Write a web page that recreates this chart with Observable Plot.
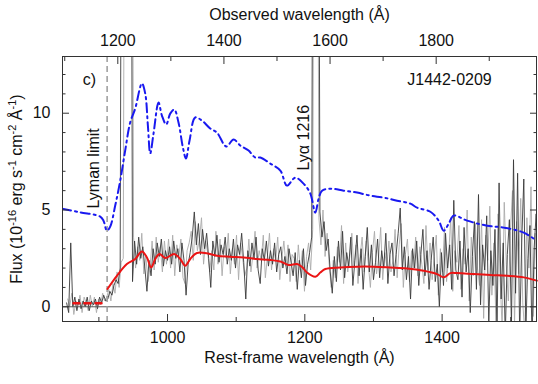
<!DOCTYPE html>
<html><head><meta charset="utf-8">
<script src="https://cdn.jsdelivr.net/npm/d3@7"></script>
<script src="https://cdn.jsdelivr.net/npm/@observablehq/plot@0.6"></script>
<style>body{margin:0;background:#fff;}</style>
</head><body><div id="chart"></div>
<script>
// ---- data ----
const redshift = 0.2937;
const restMajorTicks = [1000, 1200, 1400];
const restMinorTicks = [900, 1100, 1300, 1500];
const obsMajorTicks = [1200, 1400, 1600, 1800];
const obsMinorTicks = [1100, 1300, 1500, 1700, 1900];
const fluxMajorTicks = [0, 5, 10];
const fluxMinorTicks = [1, 2, 3, 4, 6, 7, 8, 9, 11, 12];

// observed spectrum (two shades), 3 Å bins
const specStep = 3;
const darkStart = 853;
const darkFlux = [
  0.2,-0.3,3.3,0.0,0.5,-0.2,0.4,-0.1,0.3,0.0,
  0.5,-0.2,0.3,0.1,0.4,-0.1,0.5,0.2,0.6,0.3,
  0.4,0.8,0.6,1.1,1.4,1.2,2.0,40,40,40,
  40,40,1.3,3.4,2.2,3.6,2.5,3.1,2.0,0.8,
  2.4,1.6,3.0,2.2,3.3,2.6,3.5,2.1,2.9,2.4,
  3.1,2.2,3.4,2.5,3.0,1.8,3.3,2.4,0.6,2.2,
  2.8,3.6,4.9,3.2,4.3,2.7,4.0,3.0,3.8,2.5,
  1.0,3.4,2.6,3.7,2.3,3.2,2.7,3.6,2.2,3.0,
  2.4,3.5,2.0,3.2,2.7,3.8,2.3,0.4,2.9,2.1,
  3.3,2.5,3.6,1.9,1.2,3.0,2.4,3.4,2.1,2.9,
  2.2,3.3,1.8,2.7,3.1,2.0,2.6,1.7,3.0,2.3,
  1.6,2.8,0.9,2.4,1.5,3.0,1.1,2.2,2.8,3.6,
  40,40,40,4.9,3.6,4.4,2.9,3.5,1.8,0.7,
  2.6,1.3,3.4,1.9,3.9,1.5,2.8,2.1,3.6,1.1,
  2.4,3.7,1.6,3.0,0.9,2.6,4.1,1.8,3.2,1.4,
  2.3,3.5,1.5,2.9,2.0,3.8,1.2,2.7,3.3,1.6,
  2.7,3.8,5.1,1.9,3.1,1.4,2.6,0.4,3.0,2.0,
  3.4,1.1,2.7,4.0,1.6,2.9,0.9,2.4,3.6,1.3,
  2.2,0.0,2.8,1.1,3.8,2.0,3.2,0.9,5.5,1.9,
  1.4,3.4,0.5,4.1,1.8,3.0,-0.3,2.6,4.4,0.9,
  5.8,0.1,3.2,1.9,4.7,-0.8,2.9,1.1,4.0,-1.2,
  6.4,0.4,3.3,-1.5,2.7,4.5,-1.0,7.6,0.7,6.9,
  -1.5,3.4,6.6,-1.2,2.5,4.2,-1.8,3.0,4.8,0.5
];
const lightStart = 854.5;
const lightFlux = [
  0.4,0.0,0.7,-0.4,0.3,0.1,0.6,-0.3,0.5,0.2,
  -0.2,0.6,0.0,0.5,-0.3,0.4,0.1,0.7,0.3,0.5,
  0.9,0.3,1.2,0.7,1.8,1.0,2.3,2.5,40,40,
  40,40,3.6,2.0,3.1,2.4,3.8,1.7,2.6,1.3,
  2.0,3.4,1.9,3.6,2.3,3.1,1.8,3.4,2.2,3.5,
  2.0,3.7,1.6,3.2,2.6,3.5,1.5,1.2,2.9,3.3,
  3.9,2.4,4.4,2.9,3.5,4.6,2.2,3.4,2.8,1.8,
  2.9,1.9,3.9,2.2,3.5,1.6,3.1,2.5,3.8,1.7,
  3.0,2.2,3.7,1.4,3.3,2.5,1.6,2.0,3.5,1.8,
  2.7,3.9,2.0,2.9,2.4,3.7,1.5,2.6,3.8,1.9,
  3.0,2.4,3.6,1.4,2.5,3.4,2.1,3.2,1.3,2.7,
  2.5,1.3,3.2,1.9,2.9,0.8,2.6,3.3,1.9,4.0,
  40,40,4.6,3.2,5.0,2.6,3.8,2.2,1.0,2.4,
  1.5,3.1,2.3,4.2,1.2,3.3,1.8,2.6,3.8,2.0,
  3.2,1.2,2.6,3.6,1.8,3.4,2.2,1.0,2.8,3.9,
  1.7,2.5,4.1,1.4,2.8,2.1,3.4,1.8,2.4,4.0,
  1.5,3.2,4.3,1.0,2.7,3.5,1.3,2.9,2.0,3.6,
  1.6,3.1,2.2,1.2,4.2,1.9,3.3,1.4,2.6,3.7,
  0.6,3.0,1.8,4.1,1.3,2.6,4.6,0.8,2.9,2.3,
  4.2,0.9,3.0,2.2,5.0,0.3,3.6,1.6,4.3,2.0,
  1.1,4.5,-0.6,3.7,2.4,5.2,0.6,3.3,-1.0,4.8,
  1.5,-1.2,5.4,2.2,0.3,3.9,6.0,-0.9,4.4,1.7,
  5.6,0.2,-1.4,4.6,2.0,6.2,-0.5,3.8,1.2,4.4
];

// blue dash-dot model
const blueWave = [846.5,872.7,901.9,906.7,911.7,916.5,923.8,931.1,938.3,945.6,952.9,962.7,967.5,971.4,974.8,979.6,986.9,991.8,998.1,1003.9,1009.8,1016,1022.4,1026.8,1032.1,1040.4,1050.1,1062.2,1072,1085.6,1096.2,1106,1118.1,1127.8,1135.1,1149.7,1164.3,1174,1186.1,1198.2,1208,1215.3,1220.1,1225.1,1237.2,1256.6,1276.1,1295.5,1314.9,1334.4,1353.8,1363.6,1382.9,1395,1402.3,1409.6,1416.9,1436.4,1465.6,1489.8,1518.9,1537.5];
const blueFlux = [5.07,4.88,4.66,4.45,3.93,4.14,5.23,6.52,8.07,9.52,10.24,11.54,11.02,9.36,7.92,8.95,10.55,9.88,9.42,9.98,10.19,9.52,8.23,7.66,8.59,9.78,9.62,9.21,9.0,8.28,8.64,8.33,8.07,7.71,7.71,7.40,7.04,6.26,6.67,6.36,5.85,4.86,5.59,6.0,6.10,6.0,5.90,5.74,5.64,5.48,5.33,5.12,4.91,4.45,3.93,4.29,4.71,4.45,4.19,4.09,3.83,3.41];

// red fit
const redWave = [912.5,926.2,940.8,952.9,962.7,970,976.2,982.1,988.3,996.6,1009.8,1018.5,1025.8,1033.1,1042.9,1057.4,1072,1091.4,1110.8,1130.3,1149.7,1164.3,1176.4,1188.6,1196,1203.2,1215.3,1222.6,1229.9,1251.7,1276.1,1300.3,1324.6,1349,1373.2,1392.7,1402.3,1412.1,1421.8,1446.1,1470.4,1494.7,1519,1538];
const redFlux = [0.92,1.6,2.21,2.47,2.86,2.55,2.03,2.47,2.73,2.52,2.73,2.47,2.12,2.47,2.78,2.76,2.64,2.59,2.55,2.47,2.42,2.34,2.16,2.21,2.06,1.77,1.55,1.77,1.95,2.03,2.07,2.07,2.03,1.98,1.86,1.69,1.52,1.74,1.74,1.69,1.64,1.60,1.52,1.35];
const redDashWave = [863, 909];
const redDashFlux = [0.18, 0.18];

const lymanLimit = [912];
const lyaLine = [1216];

// ---- chart ----
const toRest = o => o / (1 + redshift);
const font = "'Liberation Sans', Arial, Helvetica, sans-serif";
const ink = "#333";

const chart = Plot.plot({
  width: 538, height: 384,
  marginLeft: 62, marginRight: 2, marginTop: 56, marginBottom: 63,
  x: {domain: [847, 1537.5]},
  y: {domain: [-0.76, 12.93]},
  style: {fontFamily: font, fontSize: "16px", background: "#fff", color: "#111", overflow: "visible"},
  marks: [
    Plot.line(lightFlux, {x: (d, i) => lightStart + i * specStep, y: d => d, stroke: "#ababab", strokeWidth: 0.9, clip: true}),
    Plot.line(darkFlux, {x: (d, i) => darkStart + i * specStep, y: d => d, stroke: "#3a3a3a", strokeWidth: 0.9, clip: true}),
    Plot.ruleY([0], {stroke: "#555", strokeWidth: 1}),
    Plot.ruleX(lymanLimit, {stroke: "#9a9a9a", strokeWidth: 1.5, strokeDasharray: "6,4"}),
    Plot.line(redDashWave, {x: d => d, y: (d, i) => redDashFlux[i], stroke: "rgb(235,20,20)", strokeWidth: 2.5, strokeDasharray: "6,5"}),
    Plot.line(redWave, {x: d => d, y: (d, i) => redFlux[i], stroke: "rgb(235,20,20)", strokeWidth: 2, curve: "catmull-rom"}),
    Plot.line(blueWave, {x: d => d, y: (d, i) => blueFlux[i], stroke: "rgb(25,25,240)", strokeWidth: 2, strokeDasharray: "9,4,2,4", curve: "catmull-rom", clip: true}),
    Plot.frame({stroke: ink, strokeWidth: 1}),
    // bottom axis
    Plot.axisX({anchor: "bottom", ticks: restMajorTicks, tickSize: -7, tickFormat: () => "", stroke: ink, label: null}),
    Plot.axisX({anchor: "bottom", ticks: restMinorTicks, tickSize: -4, tickFormat: () => "", stroke: ink, label: null}),
    Plot.axisX({anchor: "bottom", ticks: restMajorTicks, tickSize: 0, tickPadding: 10, tickFormat: d => String(d), fontSize: 16, label: null}),
    // top axis (observed)
    Plot.axisX({anchor: "top", ticks: obsMajorTicks.map(toRest), tickSize: -7, tickFormat: () => "", stroke: ink, label: null}),
    Plot.axisX({anchor: "top", ticks: obsMinorTicks.map(toRest), tickSize: -4, tickFormat: () => "", stroke: ink, label: null}),
    Plot.axisX({anchor: "top", ticks: obsMajorTicks.map(toRest), tickSize: 0, tickPadding: 11, tickFormat: d => String(Math.round(d * (1 + redshift))), fontSize: 16, label: null}),
    // left axis
    Plot.axisY({anchor: "left", ticks: fluxMajorTicks, tickSize: -7, tickFormat: () => "", stroke: ink, label: null}),
    Plot.axisY({anchor: "left", ticks: fluxMinorTicks, tickSize: -3.5, tickFormat: () => "", stroke: ink, label: null}),
    Plot.axisY({anchor: "left", ticks: fluxMajorTicks, tickSize: 0, tickPadding: 12, tickFormat: d => String(d), fontSize: 16, label: null}),
    // right axis ticks
    Plot.axisY({anchor: "right", ticks: fluxMajorTicks, tickSize: -7, tickFormat: () => "", stroke: ink, label: null}),
    Plot.axisY({anchor: "right", ticks: fluxMinorTicks, tickSize: -3.5, tickFormat: () => "", stroke: ink, label: null}),
    // titles
    Plot.text(["Observed wavelength (Å)"], {frameAnchor: "top", dy: -42, text: d => d, fontSize: 16, textAnchor: "middle", lineAnchor: "middle"}),
    Plot.text(["Rest-frame wavelength (Å)"], {frameAnchor: "bottom", dy: 36, text: d => d, fontSize: 16, textAnchor: "middle", lineAnchor: "middle"}),
    Plot.text(["Flux (10-16 erg s-1 cm-2 Å-1)"], {frameAnchor: "left", dx: -46, rotate: -90, text: d => d, fontSize: 16, textAnchor: "middle", lineAnchor: "middle", className: "ylab"}),
    // annotations
    Plot.text(["c)"], {frameAnchor: "top-left", dx: 27, dy: 23, text: d => d, fontSize: 16, textAnchor: "middle", lineAnchor: "middle"}),
    Plot.text(["J1442-0209"], {frameAnchor: "top-right", dx: -87, dy: 23, text: d => d, fontSize: 16, textAnchor: "middle", lineAnchor: "middle"}),
    Plot.text(lymanLimit, {x: d => d, frameAnchor: "bottom", dx: -13, dy: -113, rotate: -90, text: () => "Lyman limit", fontSize: 16, textAnchor: "start", lineAnchor: "middle"}),
    Plot.text(lyaLine, {x: d => d, frameAnchor: "top", dx: -12, dy: 114, rotate: -90, text: d => "Lyα " + d, fontSize: 16, textAnchor: "start", lineAnchor: "middle"})
  ]
});
document.getElementById("chart").appendChild(chart);

// superscripts in the y label
const yl = chart.querySelector("g.ylab text");
if (yl) {
  const parts = [["Flux (10", false], ["-16", true], [" erg s", false], ["-1", true], [" cm", false], ["-2", true], [" Å", false], ["-1", true], [")", false]];
  yl.textContent = "";
  let prevSup = false;
  for (const [t, sup] of parts) {
    const ts = document.createElementNS("http://www.w3.org/2000/svg", "tspan");
    ts.textContent = t;
    if (sup) { ts.setAttribute("font-size", "11"); ts.setAttribute("dy", "-6"); }
    else if (prevSup) { ts.setAttribute("dy", "6"); }
    prevSup = sup;
    yl.appendChild(ts);
  }
}
</script></body></html>
